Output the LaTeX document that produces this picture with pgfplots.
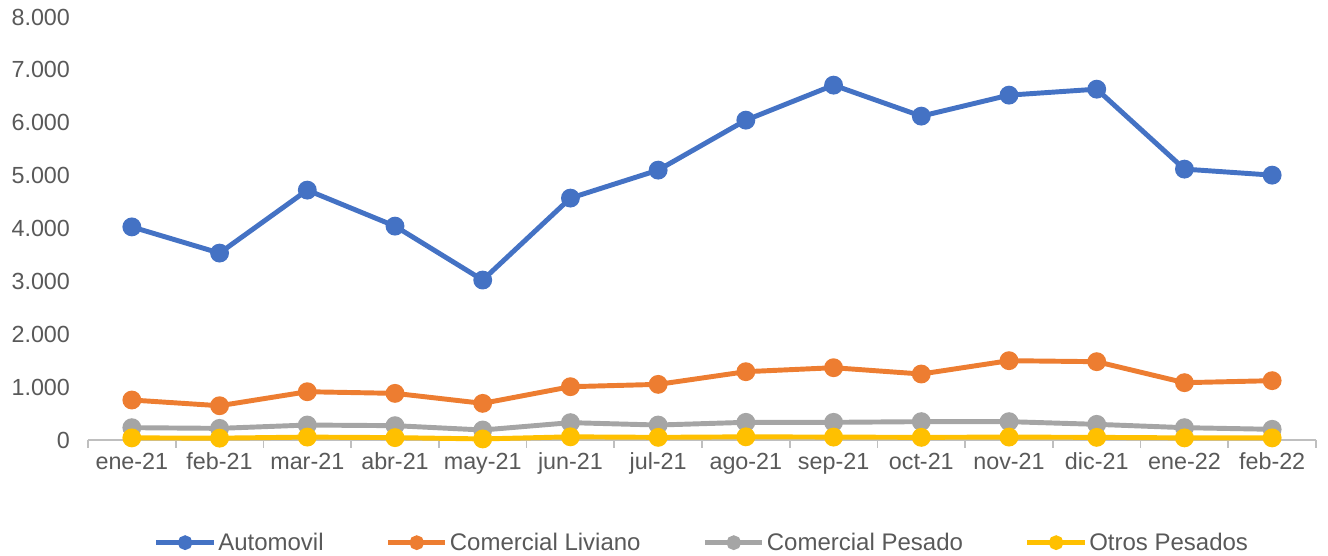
\documentclass[border=0pt]{standalone}
\usepackage{fontspec}
\setmainfont{Liberation Sans}
\usepackage{pgfplots}
\pgfplotsset{compat=1.18}
\definecolor{cAuto}{HTML}{4472C4}
\definecolor{cLiv}{HTML}{ED7D31}
\definecolor{cPes}{HTML}{A5A5A5}
\definecolor{cOtr}{HTML}{FFC000}
\definecolor{txt}{HTML}{595959}
\definecolor{axl}{HTML}{BFBFBF}
\begin{document}
\begin{tikzpicture}
\begin{axis}[
  scale only axis,
  width=921pt, height=317.25pt,
  xmin=-0.5, xmax=13.5, ymin=0, ymax=8000,
  axis y line*=left, y axis line style={draw=none},
  axis x line*=bottom, x axis line style={draw=axl, line width=1.2pt},
  xtick={0,...,13},
  xticklabels={ene-21,feb-21,mar-21,abr-21,may-21,jun-21,jul-21,ago-21,sep-21,oct-21,nov-21,dic-21,ene-22,feb-22},
  minor xtick={-0.5,0.5,...,13.5},
  major tick length=0pt,
  minor tick length=6pt,
  tick align=outside,
  minor tick style={draw=axl, line width=1.2pt},
  ytick={0,1000,...,8000},
  ymajorgrids=false,
  /pgf/number format/.cd, 1000 sep={.}, assume math mode=true,
  /pgfplots/.cd,
  ticklabel style={font=\fontsize{17.5}{21}\selectfont, text=txt},
  yticklabel style={xshift=-10pt},
  xticklabel style={yshift=-6pt},
  legend columns=4,
  legend style={at={(0.5,-77pt)}, anchor=center, draw=none, fill=none,
    font=\fontsize{18}{22}\selectfont, text=txt,
    nodes={inner xsep=1.5pt},
    /tikz/every even column/.append style={column sep=45pt}},
  legend cell align=left,
  legend image code/.code={
    \draw[#1, mark size=3.6pt, mark repeat=2, mark phase=2] plot coordinates {(0pt,0pt) (21.5pt,0pt) (43pt,0pt)};
  },
  every axis plot/.append style={line width=3.7pt, mark=*, mark size=5.2pt},
  clip=false,
]
\addplot[color=cAuto, mark options={fill=cAuto, draw=cAuto}] coordinates {
(0,4030) (1,3535) (2,4726) (3,4045) (4,3025) (5,4575) (6,5104) (7,6049) (8,6711) (9,6125) (10,6522) (11,6635) (12,5123) (13,5009)};
\addlegendentry{Automovil}
\addplot[color=cLiv, mark options={fill=cLiv, draw=cLiv}] coordinates {
(0,756) (1,648) (2,913) (3,882) (4,693) (5,1008) (6,1052) (7,1292) (8,1367) (9,1248) (10,1500) (11,1481) (12,1084) (13,1122)};
\addlegendentry{Comercial Liviano}
\addplot[color=cPes, mark options={fill=cPes, draw=cPes}] coordinates {
(0,233) (1,220) (2,283) (3,271) (4,189) (5,328) (6,283) (7,334) (8,334) (9,347) (10,347) (11,296) (12,233) (13,202)};
\addlegendentry{Comercial Pesado}
\addplot[color=cOtr, mark options={fill=cOtr, draw=cOtr}] coordinates {
(0,40) (1,35) (2,55) (3,45) (4,20) (5,60) (6,50) (7,60) (8,55) (9,50) (10,55) (11,50) (12,40) (13,40)};
\addlegendentry{Otros Pesados}
\end{axis}
\pgfresetboundingbox
\useasboundingbox (-66pt,-87pt) rectangle (930pt,330pt);
\end{tikzpicture}
\end{document}
